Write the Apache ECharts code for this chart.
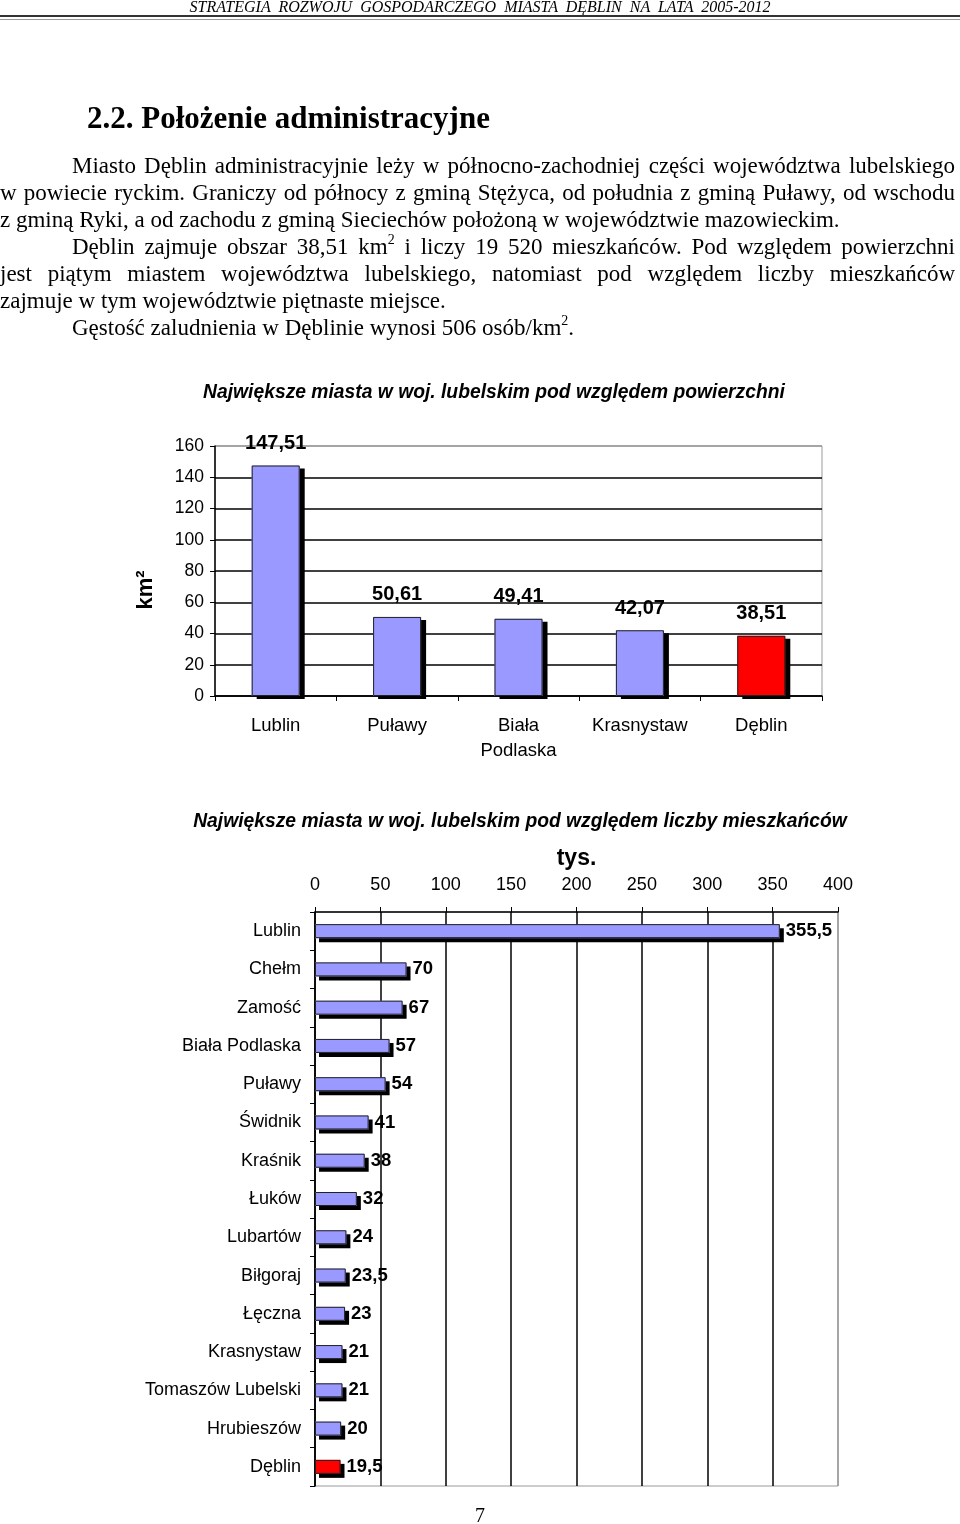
<!DOCTYPE html>
<html><head><meta charset="utf-8">
<script src="https://cdn.jsdelivr.net/npm/echarts@6/dist/echarts.min.js"></script>
<style>
html,body{margin:0;padding:0;background:#fff;}
#page{position:relative;width:960px;height:1524px;overflow:hidden;}
#chart{position:absolute;left:0;top:0;width:960px;height:1524px;}
.t{position:absolute;font-family:"Liberation Serif","Times New Roman",serif;color:#000;white-space:nowrap;}
.p{font-size:23px;line-height:27px;height:27px;}
.j{text-align:justify;text-align-last:justify;}
sup{font-size:14px;line-height:0;vertical-align:10px;}
#hdr{left:0;width:960px;top:-3px;text-align:center;font-style:italic;font-size:16px;word-spacing:4px;line-height:20px;}
#rule1{position:absolute;left:0;top:15px;width:960px;height:2px;background:#333;}
#rule2{position:absolute;left:0;top:19px;width:960px;height:1px;background:#999;}
#h2{left:87px;top:99px;font-size:31px;font-weight:bold;line-height:38px;}
#pn{left:0;width:960px;top:1503px;text-align:center;font-size:20px;line-height:24px;}
</style></head>
<body><div id="page">
<div id="chart"></div>
<div class="t" id="hdr">STRATEGIA ROZWOJU GOSPODARCZEGO MIASTA DĘBLIN NA LATA 2005-2012</div>
<div id="rule1"></div><div id="rule2"></div>
<div class="t" id="h2">2.2. Położenie administracyjne</div>
<div class="t p j" style="left:72px;width:883px;top:152px;">Miasto Dęblin administracyjnie leży w północno-zachodniej części województwa lubelskiego</div>
<div class="t p j" style="left:0;width:955px;top:179px;">w powiecie ryckim. Graniczy od północy z gminą Stężyca, od południa z gminą Puławy, od wschodu</div>
<div class="t p" style="left:0;top:206px;">z gminą Ryki, a od zachodu z gminą Sieciechów położoną w województwie mazowieckim.</div>
<div class="t p j" style="left:72px;width:883px;top:233px;">Dęblin zajmuje obszar 38,51 km<sup>2</sup> i liczy 19 520 mieszkańców. Pod względem powierzchni</div>
<div class="t p j" style="left:0;width:955px;top:260px;">jest piątym miastem województwa lubelskiego, natomiast pod względem liczby mieszkańców</div>
<div class="t p" style="left:0;top:287px;">zajmuje w tym województwie piętnaste miejsce.</div>
<div class="t p" style="left:72px;top:314px;">Gęstość zaludnienia w Dęblinie wynosi 506 osób/km<sup>2</sup>.</div>
<div class="t" id="pn">7</div>
</div>
<script>
// Chart 1: area (km2)
const areaCities = ['Lublin', 'Puławy', 'Biała\nPodlaska', 'Krasnystaw', 'Dęblin'];
const areaValues = [147.51, 50.61, 49.41, 42.07, 38.51];
const areaTicks = [0, 20, 40, 60, 80, 100, 120, 140, 160];
// Chart 2: population (thousands)
const popCities = ['Lublin', 'Chełm', 'Zamość', 'Biała Podlaska', 'Puławy', 'Świdnik', 'Kraśnik', 'Łuków', 'Lubartów', 'Biłgoraj', 'Łęczna', 'Krasnystaw', 'Tomaszów Lubelski', 'Hrubieszów', 'Dęblin'];
const popValues = [355.5, 70, 67, 57, 54, 41, 38, 32, 24, 23.5, 23, 21, 21, 20, 19.5];
const popTicks = [0, 50, 100, 150, 200, 250, 300, 350, 400];
const highlight = 'Dęblin';

const FONT = '"Liberation Sans", Arial, sans-serif';
const BLUE = '#9999FF', RED = '#FF0000';
const comma = v => String(v).replace('.', ',');

const chart = echarts.init(document.getElementById('chart'), null, {renderer: 'canvas'});

function colored(cities, values) {
  return values.map((v, i) => ({
    value: v,
    itemStyle: {color: cities[i] === highlight ? RED : BLUE}
  }));
}

const split1 = areaTicks.map((t, i) => i === areaTicks.length - 1 ? '#999' : '#000');
const split2 = popTicks.map((t, i) => i === popTicks.length - 1 ? '#999' : '#000');

chart.setOption({
  animation: false,
  textStyle: {fontFamily: FONT, color: '#000'},
  grid: [
    {left: 215, top: 446, width: 607, height: 250, show: true, borderColor: '#999', borderWidth: 1, backgroundColor: 'transparent'},
    {left: 315, top: 912, width: 523, height: 574, show: true, borderColor: '#999', borderWidth: 1, backgroundColor: 'transparent'}
  ],
  xAxis: [
    {gridIndex: 0, type: 'category', data: areaCities,
     axisLine: {lineStyle: {color: '#000', width: 1.5}},
     axisTick: {show: true, length: 5, lineStyle: {color: '#000'}},
     axisLabel: {interval: 0, fontSize: 18.5, color: '#000', margin: 17, lineHeight: 25, fontFamily: FONT}},
    {gridIndex: 1, type: 'value', position: 'top', min: popTicks[0], max: popTicks[popTicks.length - 1], interval: 50,
     name: 'tys.', nameLocation: 'middle', nameGap: 42,
     nameTextStyle: {fontSize: 23, fontWeight: 'bold', color: '#000', fontFamily: FONT},
     axisLine: {show: true, lineStyle: {color: '#000', width: 1.5}},
     axisTick: {show: true, length: 5, lineStyle: {color: '#000'}},
     splitLine: {show: true, lineStyle: {color: split2, width: 1.5}},
     axisLabel: {fontSize: 18, color: '#000', margin: 18, fontFamily: FONT}}
  ],
  yAxis: [
    {gridIndex: 0, type: 'value', min: areaTicks[0], max: areaTicks[areaTicks.length - 1], interval: 20,
     axisLine: {show: true, lineStyle: {color: '#000', width: 1.5}},
     axisTick: {show: true, length: 5, lineStyle: {color: '#000'}},
     splitLine: {show: true, lineStyle: {color: split1, width: 1.5}},
     axisLabel: {fontSize: 17.5, color: '#000', margin: 11, fontFamily: FONT}},
    {gridIndex: 1, type: 'category', data: popCities, inverse: true,
     axisLine: {show: true, lineStyle: {color: '#000', width: 1.5}},
     axisTick: {show: true, length: 5, lineStyle: {color: '#000'}},
     axisLabel: {interval: 0, fontSize: 18, color: '#000', margin: 14, fontFamily: FONT}}
  ],
  series: [
    {type: 'bar', xAxisIndex: 0, yAxisIndex: 0, barWidth: 48, silent: true,
     data: colored(areaCities, areaValues),
     itemStyle: {borderWidth: 0, shadowColor: '#000', shadowOffsetX: 5, shadowOffsetY: 3, shadowBlur: 0}},
    {type: 'bar', xAxisIndex: 0, yAxisIndex: 0, barWidth: 48, barGap: '-100%',
     data: colored(areaCities, areaValues),
     itemStyle: {borderColor: '#222', borderWidth: 1},
     label: {show: true, position: 'top', distance: 12, fontSize: 20, fontWeight: 'bold', color: '#000', fontFamily: FONT,
             formatter: p => p.value.toFixed(2).replace('.', ',')}},
    {type: 'bar', xAxisIndex: 1, yAxisIndex: 1, barWidth: 14, silent: true,
     data: colored(popCities, popValues),
     itemStyle: {borderWidth: 0, shadowColor: '#000', shadowOffsetX: 4, shadowOffsetY: 4, shadowBlur: 0}},
    {type: 'bar', xAxisIndex: 1, yAxisIndex: 1, barWidth: 14, barGap: '-100%',
     data: colored(popCities, popValues),
     itemStyle: {borderColor: '#222', borderWidth: 1},
     label: {show: true, position: 'right', distance: 6, fontSize: 18.5, fontWeight: 'bold', color: '#000', fontFamily: FONT,
             formatter: p => comma(p.value)}}
  ],
  graphic: [
    {type: 'text', x: 494, y: 393, style: {text: 'Największe miasta w woj. lubelskim pod względem powierzchni', font: 'italic bold 19.3px ' + FONT, fill: '#000', align: 'center', verticalAlign: 'middle'}},
    {type: 'text', x: 520, y: 822, style: {text: 'Największe miasta w woj. lubelskim pod względem liczby mieszkańców', font: 'italic bold 19.3px ' + FONT, fill: '#000', align: 'center', verticalAlign: 'middle'}},
    {type: 'text', x: 146, y: 590, rotation: Math.PI / 2, style: {text: 'km²', font: 'bold 22px ' + FONT, fill: '#000', align: 'center', verticalAlign: 'middle'}}
  ]
});
</script>
</body></html>
